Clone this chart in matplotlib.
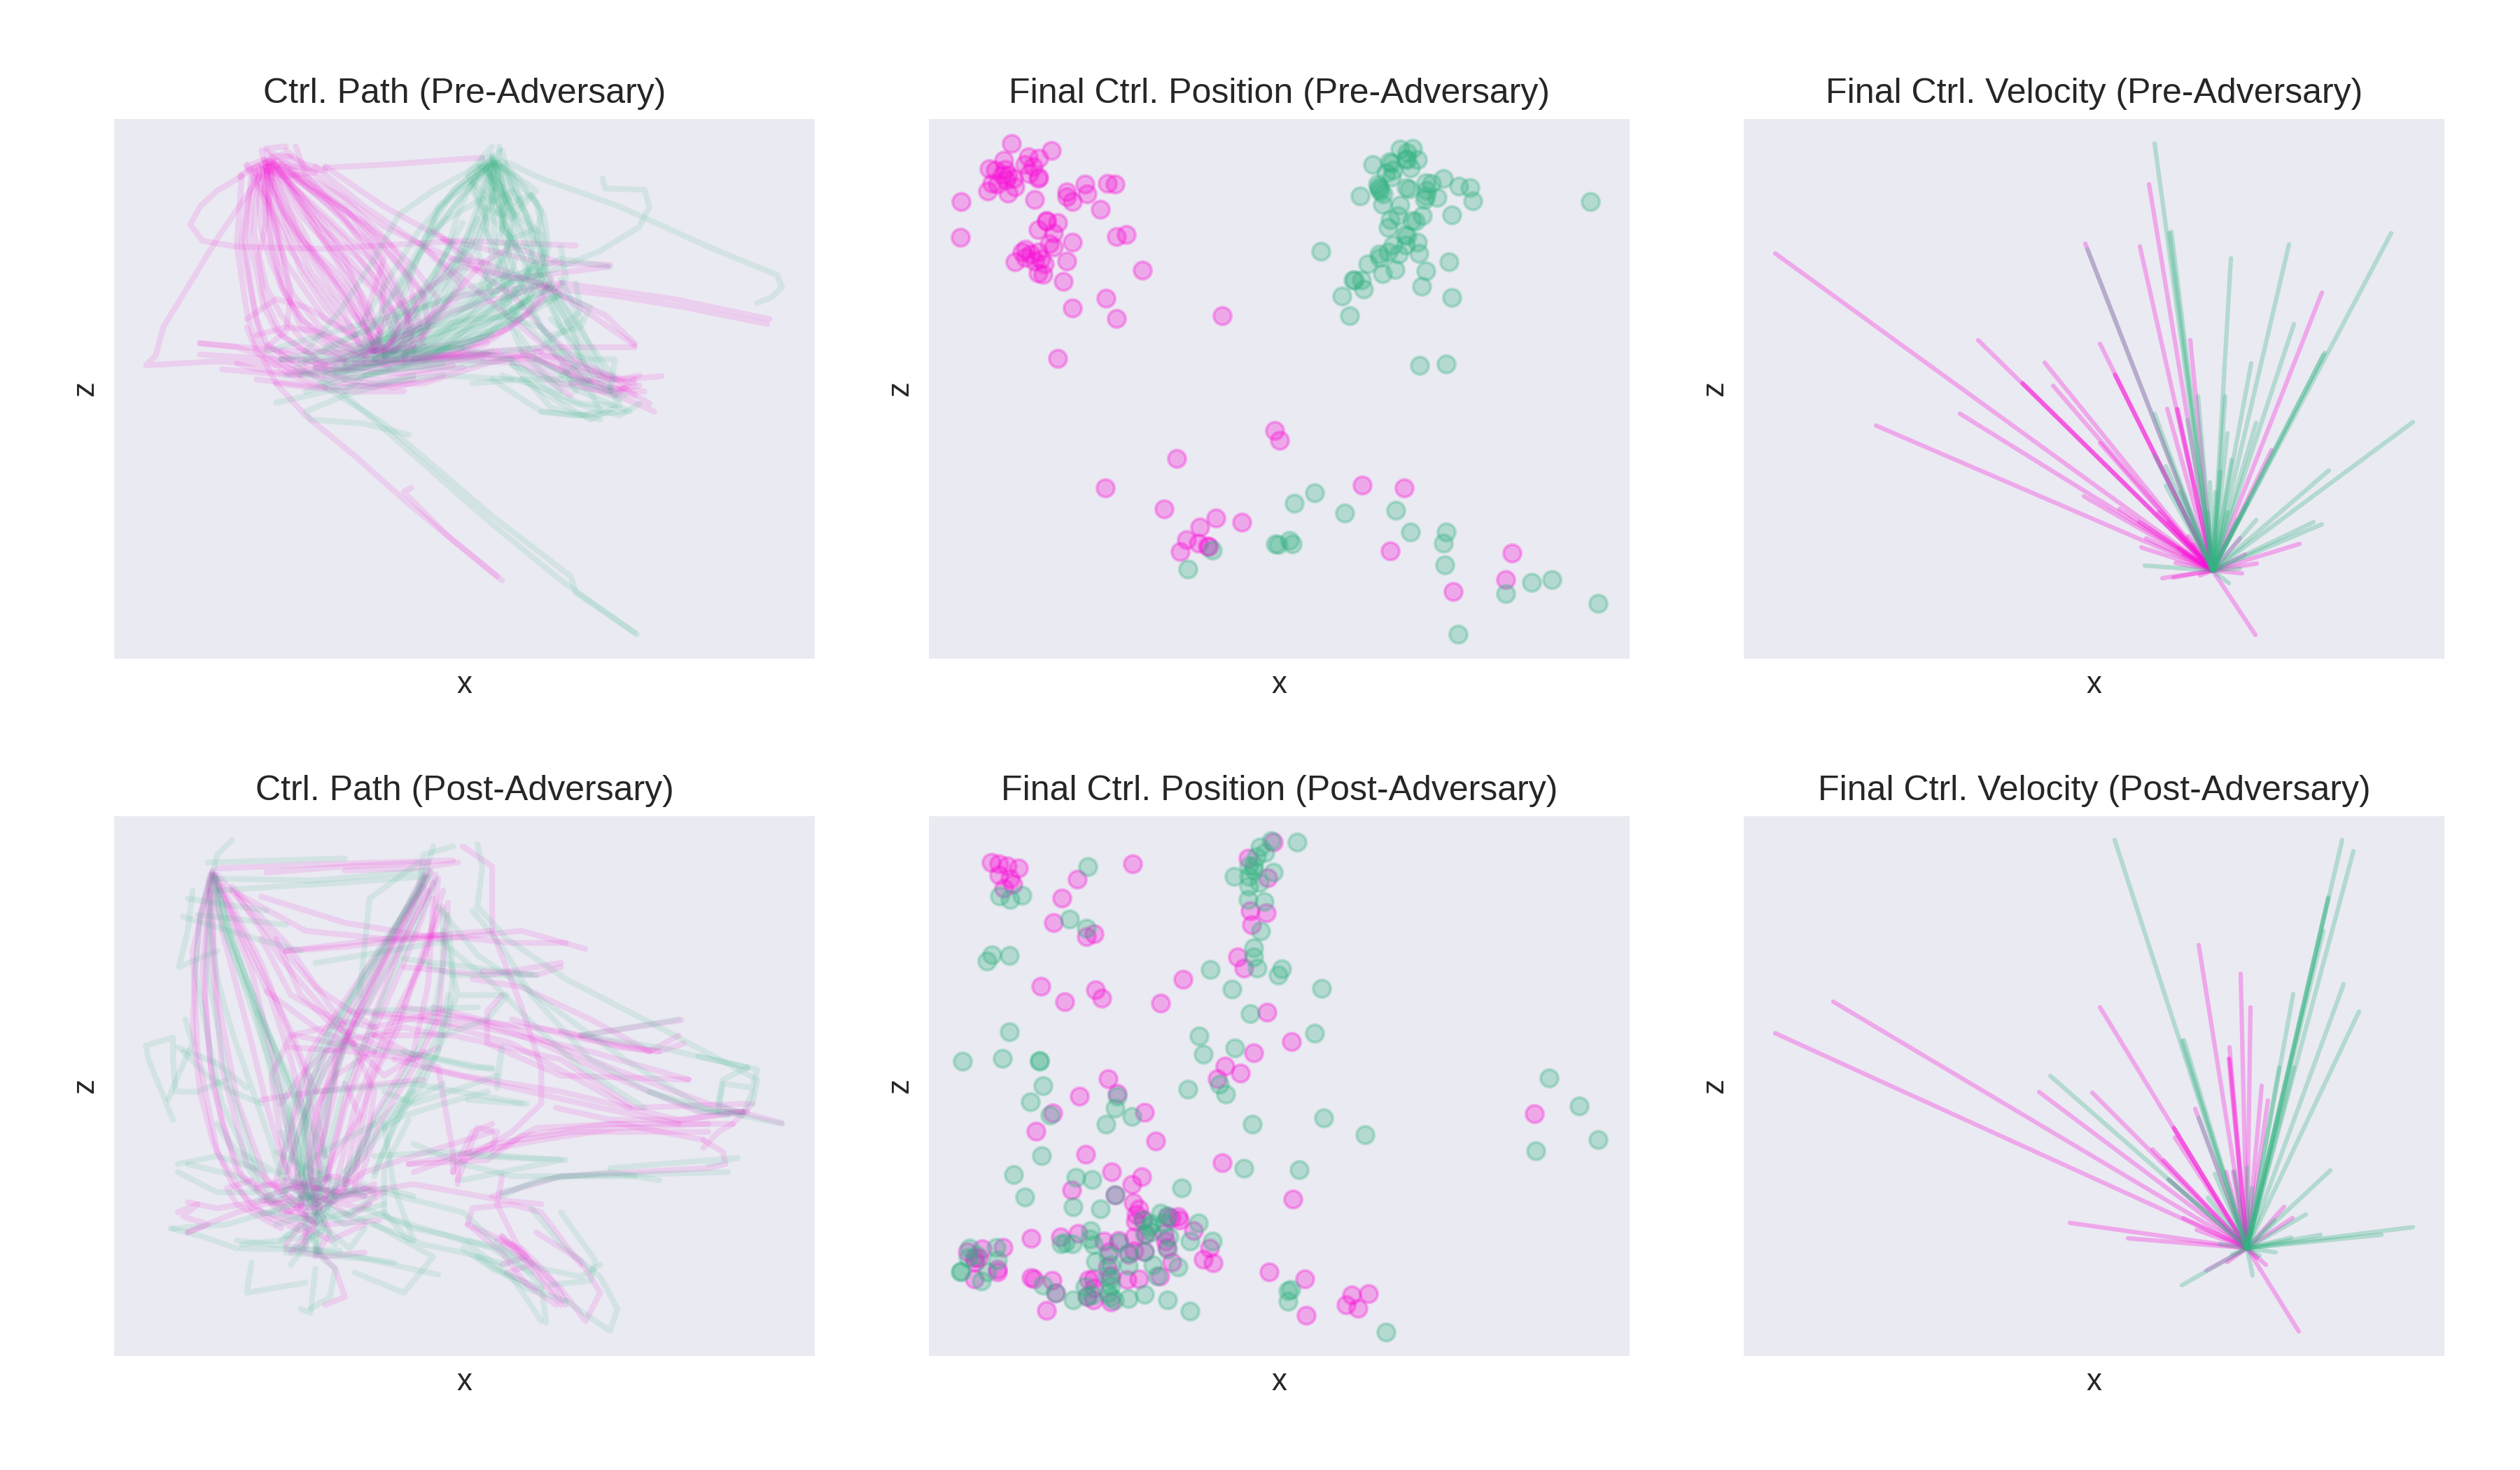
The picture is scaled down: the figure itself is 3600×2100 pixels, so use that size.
import matplotlib
matplotlib.use('Agg')
import matplotlib.pyplot as plt

plt.rcParams['font.family'] = ['Liberation Sans', 'DejaVu Sans']
plt.rcParams['text.color'] = '#262626'
plt.rcParams['axes.labelcolor'] = '#262626'

PINK = '#fa10d8'
GREEN = '#34b482'

# Ctrl. path, pre-adversary
path_pre_pink = [
    [(405,235),(420,330),(500,470),(580,590),(625,690)],
    [(400,225),(405,350),(440,480),(520,620),(620,700)],
    [(420,240),(480,340),(560,470),(610,610),(640,700)],
    [(395,250),(400,380),(430,520),(470,640),(560,720)],
    [(430,235),(520,330),(610,440),(680,580),(700,690)],
    [(385,240),(375,400),(395,560),(430,660),(520,735)],
    [(410,215),(500,300),(600,380),(690,520),(720,680)],
    [(370,265),(355,420),(375,590),(390,680),(480,740)],
    [(450,245),(560,320),(650,430),(720,560),(640,700)],
    [(350,260),(340,440),(360,600),(380,690),(470,760)],
    [(405,240),(440,380),(490,500),(560,610),(600,710)],
    [(415,230),(460,320),(530,450),(590,570),(615,680)],
    [(390,200),(410,300),(470,430),(540,560),(630,680)],
    [(460,190),(480,260),(560,370),(640,520),(630,700)],
    [(360,235),(420,380),(450,560),(440,650),(400,690)],
    [(500,240),(600,340),(720,440),(800,540),(660,700)],
    [(440,200),(520,280),(640,390),(780,470),(900,520),(1095,490)],
    [(520,240),(640,340),(760,420),(960,480),(1100,485)],
    [(350,265),(300,300),(265,340),(245,385),(270,425),(340,440),(520,445),(800,425),(1030,437)],
    [(520,243),(650,235),(840,218)],
    [(400,240),(300,420),(240,540),(190,640),(175,710),(155,735),(300,725),(430,735)],
    [(880,1270),(780,1170),(690,1080),(580,960),(480,860),(420,780),(390,710),(340,690),(265,680)],
    [(870,1260),(770,1160),(680,1050),(695,1040)],
    [(1425,620),(1230,570),(1000,530),(800,560),(640,690)],
    [(1420,632),(1250,590),(1100,560),(960,540),(780,600),(620,700)],
    [(265,680),(400,695),(560,705),(700,690)],
    [(265,708),(420,720),(600,730),(800,705),(920,715)],
    [(310,745),(450,760),(620,735),(850,705)],
    [(380,770),(520,790),(720,780),(850,730),(960,700)],
    [(620,700),(760,710),(930,710),(1040,750),(1150,780)],
    [(640,720),(800,715),(950,720),(1080,790),(1190,850)],
    [(600,730),(780,720),(920,730),(1020,810)],
    [(950,700),(1040,740),(1130,770),(1205,762)],
    [(930,720),(1000,780),(1090,800),(1160,785)],
    [(920,700),(1000,750),(1100,790),(1170,800)],
    [(1150,685),(1050,600),(960,530),(800,490),(650,600),(620,690)],
    [(1150,690),(1000,690),(850,700),(700,720)],
    [(430,720),(500,760),(640,770),(800,740)],
    [(380,660),(440,640),(500,650),(560,680),(620,700)],
    [(360,620),(420,570),(480,590),(580,660)],
    [(480,730),(560,770),(660,790),(760,760)],
    [(420,780),(560,800),(680,800)],
    [(640,700),(720,560),(780,470),(850,480)],
    [(360,640),(380,700),(450,760),(520,790)],
    [(410,240),(500,340),(620,480),(700,640),(680,720)],
    [(405,225),(560,340),(640,470),(600,620),(640,710)],
    [(620,680),(600,720),(560,750),(500,740)],
    [(640,690),(580,710),(500,730),(430,700)],
    [(615,670),(620,720),(650,740)],
    [(410,230),(370,250),(345,265),(380,240),(430,210),(470,230),(520,250),(450,240),(400,195),(440,190)],
    [(405,240),(395,300),(420,370),(445,440),(490,520),(540,600),(590,660),(630,705)],
    [(398,232),(410,290),(440,360),(480,430),(530,510),(570,590),(600,650),(615,700)],
    [(410,230),(430,290),(470,360),(520,430),(570,510),(610,590),(630,650),(625,705)],
    [(420,235),(455,290),(500,350),(560,420),(610,500),(650,580),(670,640),(650,700)],
    [(395,245),(385,320),(390,400),(410,480),(440,560),(480,630),(540,690),(600,720)],
    [(400,250),(405,320),(420,400),(430,480),(455,560),(510,640),(580,700)],
    [(390,245),(370,320),(365,420),(380,500),(395,590),(420,650),(500,715)],
    [(380,250),(360,330),(350,430),(365,530),(380,620),(400,680),(450,725)],
    [(430,240),(490,300),(550,360),(610,430),(650,500),(690,600),(680,680),(640,715)],
    [(440,240),(520,310),(590,380),(660,470),(720,560),(730,640),(680,710)],
    [(410,235),(480,290),(560,350),(640,420),(700,490),(750,570),(720,660),(620,720)],
    [(400,240),(420,300),(470,390),(500,460),(560,550),(600,640),(620,690)],
    [(405,230),(440,330),(470,420),(540,500),(590,580),(630,650)],
    [(425,245),(470,330),(510,410),(570,490),(630,560),(660,660),(630,710)],
    [(390,240),(400,310),(440,400),(470,500),(520,590),(570,660),(610,700)],
    [(412,245),(405,340),(410,440),(430,540),(470,620),(540,680),(610,715)],
    [(415,235),(470,310),(520,390),(560,460),(620,540),(670,620),(650,700)],
    [(395,225),(450,300),(510,390),(580,460),(640,540),(700,620),(660,700)],
    [(375,245),(395,310),(400,380),(385,460),(400,540),(430,610),(480,680),(560,725)],
    [(360,250),(380,240),(420,225),(460,240),(500,255),(440,265),(400,250)],
    [(400,200),(420,240),(390,270),(360,240),(410,215),(450,215)],
    [(620,700),(570,720),(500,745),(440,755),(380,745),(340,730)],
    [(640,700),(720,690),(800,680),(880,650),(950,590),(1000,530)],
    [(640,715),(720,705),(810,690),(900,640),(960,570),(980,520)],
    [(610,720),(700,720),(780,700),(860,670),(930,610),(970,540)],
    [(580,730),(680,730),(780,710),(850,680)],
    [(560,740),(660,745),(760,730),(870,700)],
    [(500,730),(580,750),(680,755),(780,735)],
    [(440,740),(530,775),(620,790),(700,770)],
    [(700,700),(780,560),(840,480),(900,440),(1000,480)],
    [(760,420),(830,500),(900,560),(960,640),(1030,720),(1130,780)],
    [(720,440),(790,510),(870,590),(960,680),(1050,770),(1150,810)],
    [(740,400),(820,470),(950,530),(1090,610),(1150,680)],
    [(960,710),(1020,720),(1080,760),(1140,800),(1180,830)],
    [(1020,780),(1070,770),(1120,770),(1160,760)],
    [(1000,740),(1050,790),(1110,810),(1150,770)],
]
path_pre_green = [
    [(860,220),(870,320),(900,430),(880,540),(790,640),(640,710)],
    [(850,240),(830,340),(800,440),(760,560),(680,680),(620,720)],
    [(870,230),(920,340),(960,460),(900,560),(780,670),(620,720)],
    [(840,250),(750,340),(720,430),(680,560),(640,690)],
    [(880,240),(950,330),(970,440),(940,560),(850,660),(700,720)],
    [(850,230),(790,290),(710,400),(650,520),(580,660)],
    [(860,210),(880,310),(930,410),(960,520),(1020,640),(1060,770)],
    [(870,240),(900,350),(940,470),(1000,600),(1080,760)],
    [(880,200),(900,300),(950,400),(970,520),(1040,640),(1100,790)],
    [(855,240),(860,340),(870,470),(900,600),(1000,720),(1030,800)],
    [(830,240),(740,300),(670,360),(620,470),(550,600),(480,700)],
    [(875,190),(870,280),(830,420),(790,540),(720,650),(560,730)],
    [(860,220),(900,340),(910,460),(880,580),(920,700),(1000,800)],
    [(890,230),(960,270),(1120,340),(1300,440),(1400,490),(1440,510),(1450,540),(1430,565),(1400,580)],
    [(1085,270),(1090,295),(1170,298),(1180,340),(1160,390),(1080,450),(960,510)],
    [(1155,1405),(1000,1270),(860,1130),(720,980),(600,850),(540,790),(460,740)],
    [(1150,1400),(1030,1300),(1020,1260),(860,1110),(640,880),(520,790)],
    [(690,908),(600,880),(490,870),(480,850),(560,810),(700,760)],
    [(420,828),(560,790),(760,760),(900,770)],
    [(430,720),(560,690),(760,640),(960,530)],
    [(400,700),(540,650),(720,590),(950,510)],
    [(520,690),(660,620),(820,540),(960,490)],
    [(640,710),(780,690),(900,720),(1000,820),(1120,860),(1160,830)],
    [(820,780),(920,770),(1030,770),(1130,810)],
    [(860,770),(960,850),(1040,860),(1130,850)],
    [(900,730),(980,840),(1080,870)],
    [(1000,700),(1060,720),(1110,720),(1100,800)],
    [(950,720),(1050,780),(1120,820)],
    [(1000,520),(1040,620),(960,690),(880,700)],
    [(620,710),(700,660),(780,610),(880,540),(1000,470),(1100,490)],
    [(560,730),(640,660),(720,640),(820,620),(920,610)],
    [(1050,780),(960,640),(900,620)],
    [(480,720),(600,650),(740,540),(820,430),(860,300)],
    [(640,600),(700,480),(770,360),(850,240)],
    [(670,560),(730,420),(800,310),(860,230)],
    [(860,190),(810,260),(840,340),(900,370),(950,300),(880,240)],
    [(840,240),(880,290),(880,360),(920,330),(900,260),(860,230)],
    [(870,230),(850,300),(890,360),(870,430),(930,440)],
    [(860,215),(820,300),(850,380),(830,450),(860,560)],
    [(900,600),(1000,560),(1060,590),(1040,640),(980,660)],
    [(560,800),(600,760),(700,730),(840,720)],
    [(540,750),(660,700),(770,690)],
    [(510,780),(700,700),(850,630),(980,540)],
    [(430,720),(600,720),(700,700)],
    [(750,700),(880,570),(960,500)],
    [(620,700),(720,590),(780,480),(830,370)],
    [(660,680),(760,540),(820,430)],
    [(860,225),(850,290),(830,360),(810,430),(790,510),(760,590),(700,670),(640,715)],
    [(865,230),(880,300),(900,370),(890,450),(860,530),(810,610),(740,680),(660,725)],
    [(870,225),(905,290),(930,360),(945,430),(930,520),(870,610),(780,680),(680,730)],
    [(855,235),(840,310),(850,390),(860,470),(830,560),(770,640),(680,710)],
    [(850,225),(815,290),(790,360),(770,440),(740,530),(700,610),(620,690)],
    [(845,235),(780,300),(740,380),(700,470),(650,570),(600,670)],
    [(860,240),(870,310),(880,390),(920,460),(940,540),(900,620),(820,680),(720,725)],
    [(880,225),(925,290),(965,360),(975,440),(960,530),(900,620),(800,690)],
    [(875,235),(885,320),(880,400),(900,480),(930,560),(960,640),(1020,720),(1060,780)],
    [(865,235),(860,320),(890,400),(930,480),(970,570),(1010,660),(1060,750),(1090,790)],
    [(855,215),(860,290),(900,350),(960,410),(965,480),(990,560),(1040,650),(1110,770)],
    [(845,230),(870,310),(840,390),(880,470),(900,540),(950,620),(990,710)],
    [(835,240),(870,280),(900,330),(940,310),(960,350),(950,420),(970,460)],
    [(840,220),(820,280),(860,330),(900,300),(880,370),(900,410),(880,470),(850,520)],
    [(875,200),(850,270),(890,320),(860,370),(900,420),(940,400)],
    [(860,235),(800,290),(750,350),(730,410),(770,370),(840,320)],
    [(800,380),(760,470),(720,550),(660,640),(590,710)],
    [(780,430),(740,510),(690,590),(620,670),(540,730)],
    [(960,510),(880,590),(780,640),(680,680),(580,720)],
    [(980,540),(880,610),(760,660),(640,710),(520,750)],
    [(1000,560),(900,630),(780,680),(660,720),(540,760)],
    [(950,480),(860,560),(740,630),(620,690),(500,740)],
    [(900,500),(800,580),(700,640),(600,690),(470,730)],
    [(860,700),(760,720),(660,730),(560,750),(470,760)],
    [(900,720),(780,740),(680,740),(560,770)],
    [(980,620),(1030,680),(1040,730),(1000,760),(950,720),(910,650)],
    [(880,760),(960,790),(1040,830),(1120,835),(1100,790)],
    [(1140,850),(1080,820),(1020,790),(960,760),(900,735)],
    [(960,850),(1030,860),(1080,850),(1060,800),(1000,760)],
    [(920,770),(1000,830),(1060,870),(1110,840)],
    [(1000,440),(1010,520),(980,580),(1000,640),(1040,600),(1030,530)],
    [(480,800),(560,770),(650,750),(760,730)],
    [(520,760),(620,730),(740,700),(860,660)],
    [(440,760),(560,740),(680,720),(800,690)],
    [(600,760),(720,720),(840,650),(920,580)],
]

# Ctrl. path, post-adversary
path_post_pink = [
    [(290,250),(250,450),(260,700),(300,950),(370,1090),(470,1130)],
    [(285,270),(270,500),(290,780),(340,1000),(450,1100)],
    [(295,260),(290,470),(310,740),(360,980),(480,1090)],
    [(300,280),(370,500),(420,750),(460,1000),(500,1100)],
    [(310,290),(390,480),(480,760),(510,1000)],
    [(285,300),(300,560),(340,820),(400,1020),(500,1130)],
    [(330,290),(440,430),(560,640),(620,800),(600,960),(530,1060)],
    [(730,250),(660,420),(580,620),(520,800),(490,1000),(500,1100)],
    [(740,280),(680,420),(620,610),(560,820),(520,1020)],
    [(720,260),(640,450),(550,640),(470,820),(420,1020)],
    [(760,300),(720,470),(640,660),(580,840),(540,1040)],
    [(740,320),(730,530),(700,700),(620,860),(560,1040)],
    [(720,290),(590,520),(490,700),(450,880),(470,1060)],
    [(400,255),(560,240),(730,230)],
    [(300,245),(500,235),(780,225)],
    [(560,250),(700,245),(790,230)],
    [(390,315),(560,380),(760,420),(920,400),(1050,445)],
    [(330,300),(480,400),(640,420),(760,420)],
    [(440,450),(640,420),(860,400)],
    [(800,190),(860,240),(860,400),(920,590),(960,740),(960,830),(900,900),(790,980),(790,1030)],
    [(1245,622),(1040,660)],
    [(570,600),(800,620),(1000,650),(1200,700)],
    [(620,610),(840,640),(1060,700),(1260,770)],
    [(680,490),(850,510),(1000,480)],
    [(660,720),(800,760),(1000,800),(1240,870),(1370,850)],
    [(620,660),(780,660),(1000,720),(1150,840),(1380,830)],
    [(720,620),(900,680),(1140,840)],
    [(1450,878),(1300,830),(1100,740),(900,640),(740,590)],
    [(1390,830),(1350,880),(1100,880),(920,910),(850,970),(690,980)],
    [(1290,920),(1120,880),(950,890),(860,950)],
    [(1240,660),(1180,700),(1010,660),(900,620)],
    [(880,560),(850,600),(850,680),(1000,760),(1260,770)],
    [(500,1080),(600,1000),(700,960),(860,900)],
    [(860,1060),(1000,1010),(1300,990),(1335,980),(1330,950),(1290,920)],
    [(790,1020),(830,890),(870,900),(860,940),(800,970)],
    [(540,1060),(700,1030),(880,1070),(960,1080)],
    [(880,1010),(870,1080),(910,1180),(1000,1320)],
    [(810,1130),(900,1180),(1000,1290),(1050,1370),(1080,1300),(1040,1220),(950,1150)],
    [(810,1130),(820,1090),(900,1080),(960,1100),(1040,1230)],
    [(880,1160),(920,1210),(960,1270),(1000,1330)],
    [(880,1230),(930,1210),(880,1160)],
    [(500,1190),(540,1240),(560,1310),(520,1330)],
    [(440,1190),(520,1210),(600,1200)],
    [(240,1150),(340,1100),(450,1060)],
    [(240,1075),(300,1090),(400,1070)],
    [(380,1030),(500,1040),(600,1060)],
    [(390,1070),(500,1090),(620,1030)],
    [(420,1040),(540,1010),(620,1050)],
    [(430,1100),(520,1130),(630,1120)],
    [(480,1190),(480,1100),(520,1060)],
    [(560,630),(450,660),(410,760),(440,1000)],
    [(540,700),(540,800),(520,900),(480,1050)],
    [(420,420),(470,560),(540,640),(700,720)],
    [(620,660),(750,740),(780,950),(780,1000)],
    [(400,550),(510,650),(620,700)],
    [(290,260),(350,400),(450,650),(500,800)],
    [(300,260),(400,400),(500,540),(620,640)],
    [(440,450),(560,440),(760,410)],
    [(1370,850),(1250,870),(1100,870),(990,840)],
    [(1180,700),(1060,620),(920,540),(820,520)],
    [(290,255),(265,360),(255,500),(250,640),(265,800),(290,920),(330,1030),(400,1110),(480,1150)],
    [(290,260),(280,400),(275,560),(285,720),(310,880),(350,1010),(420,1090),(500,1110)],
    [(295,265),(310,400),(340,540),(370,680),(400,830),(430,960),(470,1060)],
    [(300,270),(350,420),(410,570),(450,720),(480,870),(490,1000),(510,1090)],
    [(735,255),(700,340),(650,450),(600,560),(560,680),(530,810),(510,950),(500,1070)],
    [(725,265),(690,360),(640,480),(590,600),(540,720),(500,860),(480,1000),(470,1090)],
    [(745,260),(720,360),(680,480),(640,590),(600,710),(560,840),(530,980),(520,1070)],
    [(750,270),(740,380),(700,520),(670,640),(620,760),(580,900),(560,1030)],
    [(730,300),(660,470),(600,600),(520,740),(470,880),(440,1020)],
    [(760,340),(710,500),(660,640),(610,780),(590,920),(580,1040)],
    [(770,330),(760,480),(750,620),(700,740),(630,880),(590,1020)],
    [(340,310),(430,470),(520,600),(590,700),(640,760),(720,700)],
    [(390,420),(450,560),(540,620),(620,640),(760,600)],
    [(460,660),(540,680),(680,640),(760,660)],
    [(450,690),(570,700),(700,720),(750,690)],
    [(620,700),(540,760),(500,840),(520,960)],
    [(560,780),(590,860),(540,960),(510,1040)],
    [(430,830),(470,760),(520,700),(580,680)],
    [(390,820),(500,800),(640,780),(720,770)],
    [(1000,650),(1120,690),(1200,700),(1250,680)],
    [(740,410),(900,430),(1010,430)],
    [(840,500),(950,510),(1000,490)],
    [(680,590),(820,620),(960,680),(1140,780),(1280,850),(1380,850)],
    [(720,740),(900,790),(1080,840),(1240,880)],
    [(690,980),(820,950),(960,920),(1120,890),(1300,880)],
    [(700,1000),(860,930),(1020,900),(1300,900)],
    [(1290,940),(1320,900),(1350,880)],
    [(780,1000),(820,900),(860,880)],
    [(380,1040),(440,1020),(540,1050),(620,1040)],
    [(400,1060),(480,1030),(570,1070),(630,1050)],
    [(410,1080),(500,1060),(590,1090),(640,1050)],
    [(440,1100),(510,1060),(570,1110),(610,1080)],
    [(450,1200),(490,1140),(510,1090),(490,1050),(450,1040)],
    [(500,1210),(530,1150),(510,1100),(560,1040)],
    [(440,1180),(470,1130),(530,1170),(600,1130)],
    [(470,1190),(500,1130),(460,1090),(530,1010)],
    [(370,1020),(320,1040),(340,1080),(430,1140)],
    [(880,1180),(940,1230),(890,1250),(950,1290)],
    [(870,1170),(920,1190),(970,1250),(1000,1300),(1010,1330)],
    [(820,1140),(880,1200),(930,1280),(990,1330)],
    [(240,1150),(280,1130),(230,1110),(260,1080),(220,1100)],
]
path_post_green = [
    [(330,175),(300,210),(290,260),(300,340),(350,520),(400,700),(470,950),(500,1100)],
    [(250,300),(240,400),(222,490),(300,450)],
    [(295,260),(330,430),(400,640),(470,860),(500,1060)],
    [(285,280),(280,500),(320,760),(380,990)],
    [(740,190),(720,270),(640,440),(530,640),(480,820),(470,1080)],
    [(780,190),(720,210),(710,300),(600,500),(520,700),(440,1000)],
    [(830,185),(840,240),(830,340),(890,420),(1010,520),(1200,640),(1400,770),(1390,830)],
    [(750,340),(830,460),(960,570),(1130,720),(1290,840),(1450,880)],
    [(760,400),(790,560),(700,780),(620,1000)],
    [(590,560),(610,320),(710,230)],
    [(280,230),(560,220)],
    [(290,270),(500,275),(720,250)],
    [(300,300),(420,290),(560,280),(720,265)],
    [(240,320),(400,350)],
    [(260,360),(440,385)],
    [(230,365),(380,420),(470,450)],
    [(500,480),(770,425)],
    [(680,470),(950,510)],
    [(720,480),(780,510),(940,510)],
    [(600,600),(830,590)],
    [(530,680),(720,710),(860,745)],
    [(510,800),(700,780),(930,830)],
    [(210,870),(160,720),(155,685),(210,665),(210,720),(215,800),(260,800),(320,770)],
    [(235,620),(250,680),(220,760),(200,820)],
    [(220,690),(300,730),(360,790)],
    [(1045,660),(1240,620)],
    [(1280,712),(1400,745),(1390,790),(1330,780),(1320,850)],
    [(1300,980),(1360,965),(1100,990)],
    [(1200,1020),(1100,1000),(950,1020),(880,1060)],
    [(800,1020),(1000,970),(820,960)],
    [(620,960),(760,950),(1010,970)],
    [(220,980),(300,960),(400,1000)],
    [(380,1020),(300,880),(330,940),(480,1040)],
    [(640,1050),(800,1100),(960,1280),(970,1375)],
    [(640,1110),(800,1170),(900,1260),(960,1370)],
    [(940,1090),(1000,1180),(1080,1260),(1115,1340),(1100,1395),(1010,1320)],
    [(830,1210),(930,1290),(1010,1320)],
    [(800,1190),(860,1240),(960,1290)],
    [(620,1130),(740,1210),(680,1300),(580,1250)],
    [(440,1200),(600,1215),(750,1255)],
    [(350,1190),(550,1195)],
    [(370,1225),(360,1300),(480,1275)],
    [(500,1240),(490,1350),(470,1340)],
    [(340,1170),(480,1190),(660,1225)],
    [(450,1230),(500,1150),(530,1080)],
    [(500,1190),(510,1000),(530,800),(560,660)],
    [(480,1100),(480,900),(490,760)],
    [(520,1080),(620,880),(700,800)],
    [(560,1020),(660,860),(750,700),(770,560)],
    [(430,1060),(500,960),(620,880)],
    [(640,880),(660,1040),(700,1170)],
    [(760,780),(700,820),(640,880),(560,1000)],
    [(810,820),(920,830)],
    [(870,790),(880,690),(870,760)],
    [(700,1060),(640,1040),(510,1070)],
    [(400,1070),(520,1060),(610,1040)],
    [(390,1100),(500,1120),(640,1080)],
    [(210,1140),(320,1130),(460,1080)],
    [(1340,1000),(1000,1010),(880,1050)],
    [(540,1180),(500,1100),(430,1170)],
    [(300,300),(370,560),(420,800),(490,1080)],
    [(380,600),(450,770),(520,960)],
    [(295,265),(305,370),(345,500),(385,610),(430,770),(460,910),(480,1050)],
    [(290,265),(285,390),(300,520),(330,650),(370,790),(410,930),(440,1050)],
    [(300,270),(320,390),(360,520),(400,640),(440,760),(490,900),(510,1050)],
    [(285,260),(265,370),(255,500),(280,660),(310,830),(360,960),(410,1060)],
    [(735,250),(700,350),(670,440),(610,570),(560,690),(520,830),(490,960),(490,1080)],
    [(730,265),(670,390),(620,510),(570,620),(510,770),(470,920),(460,1050)],
    [(745,275),(700,400),(650,530),(610,650),(560,780),(530,920),(510,1060)],
    [(720,270),(650,420),(580,560),(510,680),(450,840),(430,1000)],
    [(760,350),(760,480),(740,620),(680,760),(620,870),(560,1030)],
    [(770,360),(780,500),(770,640),(720,780),(660,880),(620,1010)],
    [(820,350),(880,440),(940,560),(1000,640),(1060,720),(1180,800),(1340,860)],
    [(760,430),(860,530),(950,640),(1040,740),(1170,840)],
    [(1180,800),(1290,850),(1370,850)],
    [(1380,740),(1330,770),(1320,830),(1370,860),(1390,800)],
    [(680,700),(820,740),(860,740)],
    [(760,660),(850,620),(890,560),(800,560)],
    [(640,800),(700,830),(800,790),(870,760)],
    [(690,870),(640,990),(640,1100),(690,1170)],
    [(430,900),(470,1000),(540,1060)],
    [(420,950),(500,1000),(600,1060)],
    [(220,1000),(300,1050),(380,1050)],
    [(240,980),(340,1010),(420,1080)],
    [(380,1070),(450,1040),(520,1080),(600,1030)],
    [(410,1100),(480,1060),(550,1120),(620,1060)],
    [(420,1130),(510,1100),(560,1130),(640,1100)],
    [(440,1160),(510,1120),(470,1060),(540,1040)],
    [(500,1200),(520,1120),(490,1060),(510,1000)],
    [(510,1200),(480,1130),(540,1070),(520,990)],
    [(460,1190),(520,1140),(570,1190),(600,1140)],
    [(530,1090),(640,1140),(720,1180),(800,1200),(890,1230)],
    [(600,1090),(700,1140),(780,1160),(860,1190),(940,1250)],
    [(810,1170),(880,1190),(960,1240),(1040,1260),(1080,1230)],
    [(1000,1100),(1070,1220),(1060,1270),(980,1280)],
    [(230,700),(280,760),(330,800),(390,830)],
    [(205,1140),(270,1160),(340,1190)],
    [(850,800),(760,830),(680,860),(640,890)],
    [(1040,660),(1200,690),(1380,740)],
    [(700,930),(800,980),(900,1010),(1150,1010)],
    [(490,1340),(530,1310),(540,1240),(500,1200)],
    [(350,1180),(420,1170),(490,1160)],
]

# Final position, pre-adversary
pos_pre_pink = [
    (1445,205),(1502,215),(1434,229),(1469,224),(1484,226),(1464,235),(1413,241),(1422,243),
    (1436,242),(1476,238),(1432,250),(1440,250),(1448,255),(1470,248),(1483,255),(1484,253),
    (1417,262),(1425,263),(1437,257),(1450,267),(1411,273),(1440,276),(1478,285),(1373,288),
    (1524,274),(1524,281),(1532,288),(1550,263),(1553,277),(1582,262),(1593,263),(1572,299),
    (1495,315),(1495,316),(1511,318),(1483,328),(1505,333),(1372,339),(1532,346),(1595,338),
    (1609,335),(1499,348),(1505,353),(1465,356),(1460,360),(1483,360),(1473,363),(1465,368),
    (1450,374),(1487,370),(1478,373),(1492,377),(1524,373),(1483,390),(1490,392),(1519,402),
    (1580,426),(1532,440),(1632,386),(1595,455),
    (1746,451),(1511,512),(1821,615),(1828,629),(1681,655),(1579,697),(1946,693),(2006,697),
    (1663,727),(1737,740),(1774,746),(1714,753),(1695,771),(1712,776),(1725,780),(1727,781),
    (1686,788),(1986,787),(2160,790),(2151,828),(2076,845),
]
pos_pre_green = [
    (2000,213),(2018,212),(2010,218),(1961,235),(1985,231),(1988,233),(2008,227),(2010,228),
    (2025,228),(2015,240),(1990,243),(1980,247),(1988,253),(1968,263),(1970,267),(1970,270),
    (1972,273),(1976,277),(1943,280),(2009,268),(2013,270),(2037,261),(2045,262),(2062,255),
    (2084,266),(2100,268),(2104,287),(2038,272),(2037,280),(2035,285),(2053,282),(1975,292),
    (2000,293),(2032,308),(2074,307),(1997,308),(1986,314),(1983,325),(2017,315),(2022,316),
    (2007,335),(2010,337),(1990,350),(2025,346),(2008,350),(2027,362),(1998,363),(1983,360),
    (1970,363),(1971,368),(1954,377),(1993,385),(1975,391),(2037,387),(2070,374),(1933,400),
    (1935,400),(1945,400),(1948,413),(2031,409),(2074,425),(1917,423),(1928,451),
    (2272,288),(1887,359),(2028,522),(2066,520),(1878,704),(1849,719),(1921,733),(1994,729),
    (2015,760),(2066,760),(2062,776),(1842,772),(1846,777),(1822,777),(1826,778),(1732,786),
    (1697,813),(2064,807),(2151,848),(2188,832),(2217,828),(2283,862),(2083,906),
]

# Final position, post-adversary
pos_post_pink = [
    (1416,1232),(1427,1234),(1439,1237),(1455,1240),(1427,1250),(1443,1255),(1447,1263),(1434,1269),
    (1618,1234),(1539,1256),(1517,1283),(1505,1318),(1552,1338),(1563,1334),(1819,1203),(1783,1226),
    (1811,1254),(1786,1301),(1809,1304),(1788,1321),(1768,1367),(1777,1383),(1690,1399),(1487,1409),
    (1565,1414),(1574,1426),(1521,1431),(1658,1433),(1810,1446),(1845,1488),(1791,1504),(1750,1523),
    (1772,1533),(1739,1541),(1583,1541),(1596,1562),(1542,1566),(1504,1590),(1635,1589),(1480,1616),
    (1651,1630),(1551,1649),(1746,1661),(2192,1591),(1588,1674),(1631,1681),(1617,1692),(1531,1700),
    (1847,1713),
    (1593,1707),(1619,1718),(1627,1727),(1623,1735),(1622,1745),(1633,1742),(1668,1738),(1673,1740),
    (1683,1738),(1685,1743),(1705,1758),(1620,1767),(1637,1763),(1663,1762),(1665,1773),(1667,1782),
    (1635,1788),(1612,1792),(1620,1787),(1598,1772),(1577,1773),(1540,1762),(1515,1767),(1473,1769),
    (1433,1782),(1403,1784),(1382,1788),(1392,1797),(1398,1797),(1393,1803),(1425,1813),(1425,1817),
    (1392,1827),(1473,1825),(1477,1827),(1503,1829),(1508,1847),(1495,1872),(1555,1828),(1562,1827),
    (1585,1788),(1582,1810),(1610,1828),(1627,1827),(1657,1823),(1674,1803),(1728,1783),(1719,1799),
    (1733,1804),(1563,1840),(1562,1857),(1587,1860),(1587,1822),(1553,1852),
    (1813,1817),(1864,1827),(1931,1850),(1955,1848),(1923,1864),(1940,1869),(1866,1879),
]
pos_post_green = [
    (1816,1201),(1853,1203),(1800,1210),(1807,1218),(1795,1224),(1784,1237),(1791,1237),(1791,1243),
    (1763,1252),(1819,1246),(1784,1252),(1799,1261),(1784,1266),(1783,1285),(1806,1288),(1801,1330),
    (1791,1354),(1791,1367),(1796,1383),(1831,1384),(1826,1393),(1729,1385),(1760,1413),(1888,1412),
    (1786,1448),(1878,1476),(1713,1480),(1764,1497),(1719,1506),(1742,1549),(1751,1563),(1697,1556),
    (1789,1606),(1891,1597),(1950,1621),(1777,1669),(1856,1671),(2213,1540),(2256,1580),(2283,1628),
    (2194,1644),(1554,1238),(1428,1280),(1443,1285),(1460,1279),(1528,1313),(1552,1326),(1417,1364),
    (1410,1373),(1442,1365),(1442,1474),(1375,1516),(1432,1512),(1485,1515),(1485,1516),(1490,1551),
    (1472,1574),(1500,1593),(1596,1566),(1593,1583),(1617,1595),(1580,1606),(1488,1651),(1448,1678),
    (1537,1682),(1560,1685),(1464,1710),(1533,1724),(1572,1727),(1593,1707),(1688,1697),
    (1385,1783),(1423,1782),(1425,1800),(1395,1793),(1383,1797),(1372,1817),(1373,1816),(1410,1817),
    (1402,1830),(1516,1777),(1522,1775),(1532,1777),(1558,1758),(1557,1770),(1562,1778),(1565,1802),
    (1490,1836),(1508,1847),(1533,1857),(1550,1838),(1553,1852),(1560,1850),(1582,1823),(1587,1827),
    (1587,1837),(1583,1847),(1587,1853),(1592,1857),(1612,1855),(1635,1849),(1668,1857),(1700,1873),
    (1653,1823),(1683,1810),(1647,1807),(1612,1808),(1587,1807),(1668,1785),(1700,1773),(1712,1747),
    (1732,1773),(1658,1733),(1668,1737),(1645,1748),(1633,1743),(1642,1752),(1645,1760),(1635,1763),
    (1663,1747),(1670,1767),(1598,1775),(1583,1793),(1612,1790),(1635,1788),
    (1840,1844),(1844,1842),(1840,1859),(1980,1903),
]

# Final velocity (vx, vz), pre-adversary
vel_pre_pink = [
    (-625,453),(-481,207),(-361,224),(-335,329),(-240,297),(-228,264),(-272,268),(-271,267),
    (-182,467),(-161,324),(-140,280),(-139,279),(-104,463),(-91,552),(-32,329),(-65,231),
    (-51,231),(-50,230),(156,397),(84,172),(124,38),(61,-92),(-161,182),(-184,106),(-133,88),
    (-95,46),(-102,33),(-53,11),(63,10),(-72,-11),(-56,-10),(42,-4),(-18,-7),(39,46),(46,23),
    (-63,69),(-105,69),(-77,83),(-35,49),(-49,32),(-42,23),(-28,37),
]
vel_pre_green = [
    (-83,610),(-59,484),(-62,482),(26,446),(109,466),(255,482),(116,352),(160,311),(158,308),
    (55,296),(18,249),(-21,249),(286,212),(166,143),(62,211),(21,196),(-83,224),(-179,459),
    (-36,215),(27,158),(-83,164),(-67,149),(-67,121),(-4,126),(144,69),(156,66),(62,72),
    (-97,7),(23,-18),(39,3),(-46,112),(11,141),(49,95),(35,72),(4,112),(-7,83),(21,83),
]

# Final velocity (vx, vz), post-adversary
vel_post_pink = [
    (-674,307),(-591,352),(-297,223),(-221,222),(-210,344),(-69,433),(-9,392),(5,344),(-25,287),
    (-26,271),(-25,270),(21,232),(30,211),(-74,199),(-105,172),(-104,171),(-103,158),(-135,141),
    (-119,125),(-253,36),(-170,14),(74,-119),(53,59),(65,43),(-58,-32),(-28,-20),(27,-24),
    (-91,43),(-72,26),(-20,109),(-30,109),(-112,98),(14,-14),
]
vel_post_green = [
    (-189,583),(136,583),(152,567),(116,501),(116,499),(109,453),(66,363),(138,377),(160,338),
    (-90,297),(-93,296),(46,258),(67,258),(-281,246),(-69,186),(-112,98),(119,111),(84,48),
    (-56,72),(-46,106),(237,30),(192,19),(105,19),(63,15),(-93,-53),(8,-39),(41,-6),(-39,6),
    (0,115),(-18,109),(7,86),(39,40),(18,-11),(-21,-9),
]

titles = [
    'Ctrl. Path (Pre-Adversary)', 'Final Ctrl. Position (Pre-Adversary)', 'Final Ctrl. Velocity (Pre-Adversary)',
    'Ctrl. Path (Post-Adversary)', 'Final Ctrl. Position (Post-Adversary)', 'Final Ctrl. Velocity (Post-Adversary)',
]


def draw_paths(ax, paths, color):
    for p in paths:
        ax.plot([q[0] for q in p], [q[1] for q in p], color=color, lw=2, alpha=0.12,
                solid_capstyle='round', solid_joinstyle='round')


def draw_points(ax, points, color):
    ax.scatter([q[0] for q in points], [q[1] for q in points], s=36, color=color,
               alpha=0.3, linewidths=1)


def draw_velocity(ax, vel, color):
    for vx, vz in vel:
        ax.plot([0, vx], [0, vz], color=color, lw=1.5, alpha=0.3, solid_capstyle='round')


fig, axes = plt.subplots(2, 3, figsize=(12, 7), dpi=300)
fig.subplots_adjust(left=163 / 3600, right=3492 / 3600, top=1 - 170 / 2100, bottom=1 - 1937 / 2100,
                    wspace=163 / 1001, hspace=225 / 771)

draw_paths(axes[0, 0], path_pre_pink, PINK)
draw_paths(axes[0, 0], path_pre_green, GREEN)
axes[0, 0].set_xlim(90, 1517)
axes[0, 0].set_ylim(1465, 122)

draw_paths(axes[1, 0], path_post_pink, PINK)
draw_paths(axes[1, 0], path_post_green, GREEN)
axes[1, 0].set_xlim(90, 1517)
axes[1, 0].set_ylim(1457, 115)

draw_points(axes[0, 1], pos_pre_pink, PINK)
draw_points(axes[0, 1], pos_pre_green, GREEN)
axes[0, 1].set_xlim(1327, 2328)
axes[0, 1].set_ylim(941, 170)

draw_points(axes[1, 1], pos_post_pink, PINK)
draw_points(axes[1, 1], pos_post_green, GREEN)
axes[1, 1].set_xlim(1327, 2328)
axes[1, 1].set_ylim(1937, 1166)

draw_velocity(axes[0, 2], vel_pre_pink, PINK)
draw_velocity(axes[0, 2], vel_pre_green, GREEN)
axes[0, 2].set_xlim(-670, 331)
axes[0, 2].set_ylim(-126, 645)

draw_velocity(axes[1, 2], vel_post_pink, PINK)
draw_velocity(axes[1, 2], vel_post_green, GREEN)
axes[1, 2].set_xlim(-719, 282)
axes[1, 2].set_ylim(-154, 617)

for ax, title in zip(axes.flat, titles):
    ax.set_facecolor('#EAEAF2')
    for s in ax.spines.values():
        s.set_visible(False)
    ax.set_xticks([])
    ax.set_yticks([])
    ax.set_title(title, fontsize=12, pad=5.5)
    ax.set_xlabel('x', fontsize=10.5, labelpad=4)
    ax.set_ylabel('z', fontsize=10.5, labelpad=5)

fig.savefig('out.png', dpi=300)
